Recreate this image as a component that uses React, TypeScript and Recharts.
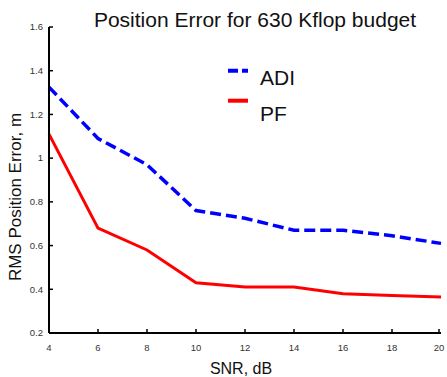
import { Legend, Line, LineChart, XAxis, YAxis } from "recharts";

// Position error vs SNR, 630 Kflop budget
const snr = [4, 6, 8, 10, 12, 14, 16, 18, 20];
const adi = [1.325, 1.09, 0.97, 0.76, 0.725, 0.67, 0.67, 0.645, 0.61];
const pf = [1.11, 0.68, 0.58, 0.43, 0.41, 0.41, 0.38, 0.372, 0.365];

const xTicks = [4, 6, 8, 10, 12, 14, 16, 18, 20];
const yTicks = [0.2, 0.4, 0.6, 0.8, 1, 1.2, 1.4, 1.6];

const FONT = '"Liberation Sans", Arial, sans-serif';
const TICK_FILL = "#333";

const data = snr.map((s, i) => ({ snr: s, adi: adi[i], pf: pf[i] }));

/** Ticks point into the plot, so the line is drawn by hand next to the label. */
function XTick({ x, y, payload }: any) {
  return (
    <g>
      <line x1={x} x2={x} y1={y - 11} y2={y - 15} stroke="#000" strokeWidth={1.5} />
      <text x={x} y={y} dy="0.71em" textAnchor="middle" fontSize={9.5} fill={TICK_FILL} fontFamily={FONT}>
        {payload.value}
      </text>
    </g>
  );
}

function YTick({ x, y, payload }: any) {
  return (
    <g>
      <line x1={x + 6} x2={x + 10} y1={y} y2={y} stroke="#000" strokeWidth={1.5} />
      <text x={x} y={y} dy="0.35em" textAnchor="end" fontSize={9.5} fill={TICK_FILL} fontFamily={FONT}>
        {payload.value}
      </text>
    </g>
  );
}

function LegendBox({ payload }: any) {
  return (
    <svg width={90} height={66} style={{ display: "block" }}>
      {(payload ?? []).map((e: any, i: number) => (
        <g key={e.value}>
          <line
            x1={2}
            x2={22}
            y1={10.7 + i * 30}
            y2={10.7 + i * 30}
            stroke={e.color}
            strokeWidth={4}
            strokeDasharray={e.dataKey === "adi" ? "10 4" : undefined}
          />
          <text x={34} y={25 + i * 35.5} fontSize={21} fontFamily={FONT} fill="#111">
            {e.value}
          </text>
        </g>
      ))}
    </svg>
  );
}

export default function App() {
  return (
    <div style={{ position: "absolute", left: 0, top: 0, width: 447, height: 377, background: "#fff" }}>
      <LineChart width={447} height={377} data={data} margin={{ top: 27, right: 6, bottom: 0, left: 0 }}>
        <XAxis
          dataKey="snr"
          type="number"
          domain={[4, 20]}
          ticks={xTicks}
          height={44}
          tickSize={0}
          tickMargin={11}
          tick={<XTick />}
          axisLine={{ stroke: "#000", strokeWidth: 2 }}
          tickLine={false}
        />
        <YAxis
          type="number"
          domain={[0.2, 1.6]}
          ticks={yTicks}
          width={49}
          tickSize={0}
          tickMargin={6}
          tick={<YTick />}
          axisLine={{ stroke: "#000", strokeWidth: 2 }}
          tickLine={false}
        />
        <Legend
          layout="vertical"
          align="center"
          verticalAlign="middle"
          wrapperStyle={{ left: 226, top: 60, width: 90 }}
          content={<LegendBox />}
        />
        <Line
          dataKey="adi"
          name="ADI"
          stroke="#0000ff"
          strokeWidth={3.5}
          strokeDasharray="11 5"
          dot={false}
          isAnimationActive={false}
        />
        <Line
          dataKey="pf"
          name="PF"
          stroke="#ff0000"
          strokeWidth={3}
          dot={false}
          isAnimationActive={false}
        />
      </LineChart>
      <svg
        width={447}
        height={377}
        style={{ position: "absolute", left: 0, top: 0, pointerEvents: "none" }}
        fontFamily={FONT}
      >
        <text x={255} y={26.5} textAnchor="middle" fontSize={21} fill="#111">
          Position Error for 630 Kflop budget
        </text>
        <text transform="translate(21,197) rotate(-90)" textAnchor="middle" fontSize={17} fill="#111">
          RMS Position Error, m
        </text>
        <text x={241} y={374} textAnchor="middle" fontSize={16} fill="#111">
          SNR, dB
        </text>
      </svg>
    </div>
  );
}
